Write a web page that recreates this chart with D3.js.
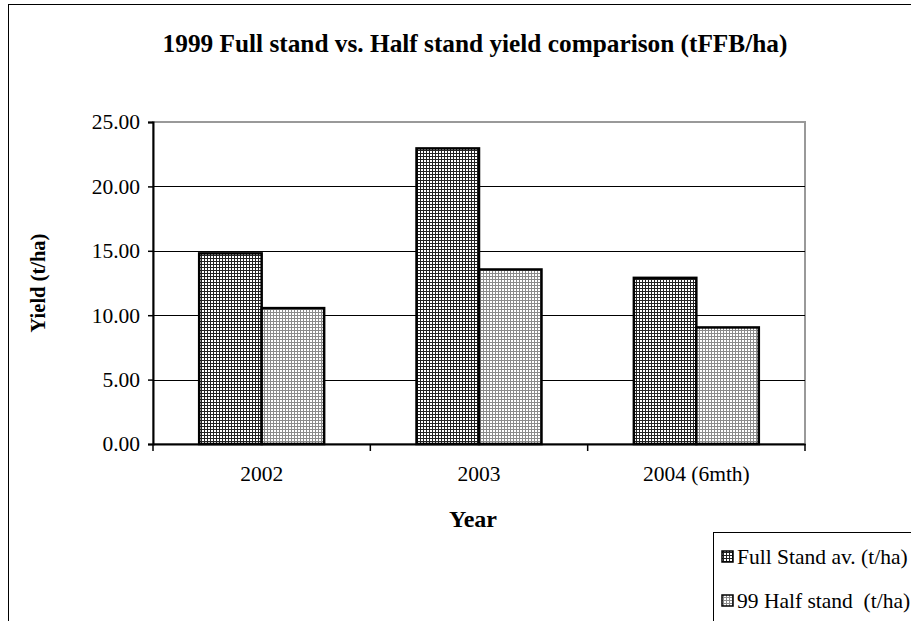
<!DOCTYPE html>
<html>
<head>
<meta charset="utf-8">
<script src="https://cdn.jsdelivr.net/npm/d3@7"></script>
<style>
  html, body { margin: 0; padding: 0; background: #fff; overflow: hidden; }
  svg { display: block; font-family: "Liberation Serif", "Times New Roman", serif; }
  text { white-space: pre; }
</style>
</head>
<body>
<svg id="chart" width="911" height="621"></svg>
<script>
// Yield per year, tFFB/ha
const years = ["2002", "2003", "2004 (6mth)"];
const fullStand = [14.8, 22.95, 12.9];
const halfStand = [10.55, 13.55, 9.05];
const seriesNames = ["Full Stand av. (t/ha)", "99 Half stand  (t/ha)"];
const yTicks = [0, 5, 10, 15, 20, 25];

const svg = d3.select("#chart");
const defs = svg.append("defs");
const serif = "Liberation Serif, Times New Roman, serif";

// Cross-hatch fills: dense dark grid and lighter grey grid
function gridPattern(id, lineColor, step) {
  const p = defs.append("pattern")
    .attr("id", id).attr("patternUnits", "userSpaceOnUse")
    .attr("width", step).attr("height", step);
  p.append("rect").attr("width", step).attr("height", step).attr("fill", "#fff");
  p.append("rect").attr("x", 0).attr("y", 0).attr("width", step).attr("height", 1).attr("fill", lineColor);
  p.append("rect").attr("x", 0).attr("y", 0).attr("width", 1).attr("height", step).attr("fill", lineColor);
}
gridPattern("fullFill", "#222", 3);
gridPattern("halfFill", "#8a8a8a", 3);
const fills = ["url(#fullFill)", "url(#halfFill)"];

// Outer chart frame
svg.append("rect").attr("x", 8.5).attr("y", 4.5).attr("width", 920).attr("height", 640)
  .attr("fill", "none").attr("stroke", "#000").attr("stroke-width", 1);

const plot = { left: 153, top: 122, right: 805, bottom: 444 };

const x = d3.scaleBand().domain(years).range([plot.left, plot.right]).paddingInner(0).paddingOuter(0);
const y = d3.scaleLinear().domain([0, 25]).range([plot.bottom, plot.top]);
const bw = x.bandwidth() * 0.2875;

// Plot area border (grey top/right)
svg.append("rect").attr("x", plot.left).attr("y", plot.top)
  .attr("width", plot.right - plot.left).attr("height", plot.bottom - plot.top)
  .attr("fill", "none").attr("stroke", "#999").attr("stroke-width", 2);

// Gridlines
svg.append("g").selectAll("line").data(yTicks.filter(d => d > 0 && d < 25)).join("line")
  .attr("x1", plot.left).attr("x2", plot.right)
  .attr("y1", d => Math.round(y(d)) + 0.5).attr("y2", d => Math.round(y(d)) + 0.5)
  .attr("stroke", "#000").attr("stroke-width", 1);

// Bars
const groups = svg.append("g").selectAll("g").data(years).join("g");
[fullStand, halfStand].forEach((vals, s) => {
  groups.append("rect")
    .attr("x", (d, i) => x(d) + x.bandwidth() / 2 - bw + s * bw)
    .attr("y", (d, i) => y(vals[i]))
    .attr("width", bw)
    .attr("height", (d, i) => y(0) - y(vals[i]))
    .attr("fill", fills[s])
    .attr("stroke", "#000").attr("stroke-width", 2.5);
});

// Y axis
const yAxis = svg.append("g").attr("transform", `translate(${plot.left},0)`)
  .call(d3.axisLeft(y).tickValues(yTicks).tickFormat(d3.format(".2f")).tickSize(5).tickPadding(8));
yAxis.attr("font-family", serif).attr("font-size", 21.5);
yAxis.select(".domain").attr("stroke", "#000").attr("stroke-width", 2);
yAxis.selectAll(".tick line").attr("stroke", "#000").attr("stroke-width", 1.5);
yAxis.selectAll("text").attr("fill", "#000");

// X axis
const xAxis = svg.append("g").attr("transform", `translate(0,${plot.bottom})`)
  .call(d3.axisBottom(x).tickSize(0).tickPadding(22));
xAxis.attr("font-family", serif).attr("font-size", 21.5);
xAxis.select(".domain").attr("stroke", "#000").attr("stroke-width", 2);
xAxis.selectAll("text").attr("fill", "#000");
// boundary ticks between categories
const bounds = years.map(d => x(d)).concat([plot.right]);
svg.append("g").selectAll("line").data(bounds).join("line")
  .attr("x1", d => d).attr("x2", d => d)
  .attr("y1", plot.bottom).attr("y2", plot.bottom + 7)
  .attr("stroke", "#000").attr("stroke-width", 1.5);

// Title and axis titles
svg.append("text").attr("x", 475).attr("y", 52).attr("text-anchor", "middle")
  .attr("font-size", 25.3).attr("font-weight", "bold")
  .text("1999 Full stand vs. Half stand yield comparison (tFFB/ha)");
svg.append("text").attr("x", 473).attr("y", 527).attr("text-anchor", "middle")
  .attr("font-size", 24).attr("font-weight", "bold").text("Year");
svg.append("text").attr("transform", "translate(45,283) rotate(-90)").attr("text-anchor", "middle")
  .attr("font-size", 20.5).attr("font-weight", "bold").text("Yield (t/ha)");

// Legend
const lg = svg.append("g");
lg.append("rect").attr("x", 713.5).attr("y", 532.5).attr("width", 220).attr("height", 120)
  .attr("fill", "#fff").attr("stroke", "#000").attr("stroke-width", 1);
seriesNames.forEach((name, i) => {
  const cy = 557 + i * 44;
  lg.append("rect").attr("x", 722).attr("y", cy - 6).attr("width", 11).attr("height", 11)
    .attr("fill", fills[i]).attr("stroke", "#000").attr("stroke-width", 1.5);
  lg.append("text").attr("x", 737).attr("y", cy + 7).attr("font-size", 21.5).text(name);
});
</script>
</body>
</html>
